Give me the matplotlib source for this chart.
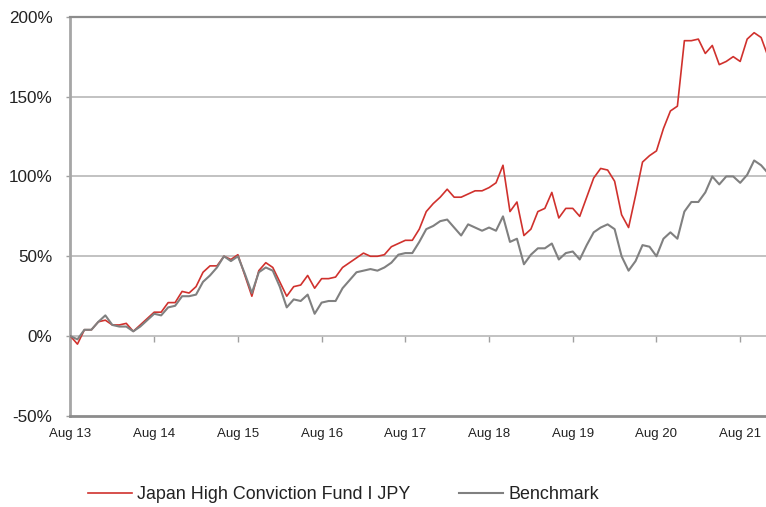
"""
Japan High Conviction Fund I JPY vs benchmark, cumulative performance.
"""

import matplotlib
matplotlib.use("Agg")
import numpy as np
import matplotlib.pyplot as plt

# monthly cumulative returns (%), Aug 2013 = month 0
fund = [0, -5, 4, 4, 9, 10, 7, 7, 8, 3,
        7, 11, 15, 15, 21, 21, 28, 27, 31, 40,
        44, 44, 50, 48, 51, 38, 25, 41, 46, 43,
        34, 25, 31, 32, 38, 30, 36, 36, 37, 43,
        46, 49, 52, 50, 50, 51, 56, 58, 60, 60,
        67, 78, 83, 87, 92, 87, 87, 89, 91, 91,
        93, 96, 107, 78, 84, 63, 67, 78, 80, 90,
        74, 80, 80, 75, 87, 99, 105, 104, 97, 76,
        68, 88, 109, 113, 116, 130, 141, 144, 185, 185,
        186, 177, 182, 170, 172, 175, 172, 186, 190, 187,
        175]
benchmark = [0, -2, 4, 4, 9, 13, 7, 6, 6, 3,
             6, 10, 14, 13, 18, 19, 25, 25, 26, 34,
             38, 43, 50, 47, 50, 39, 27, 40, 43, 41,
             31, 18, 23, 22, 26, 14, 21, 22, 22, 30,
             35, 40, 41, 42, 41, 43, 46, 51, 52, 52,
             59, 67, 69, 72, 73, 68, 63, 70, 68, 66,
             68, 66, 75, 59, 61, 45, 51, 55, 55, 58,
             48, 52, 53, 48, 57, 65, 68, 70, 67, 50,
             41, 47, 57, 56, 50, 61, 65, 61, 78, 84,
             84, 90, 100, 95, 100, 100, 96, 101, 110, 107,
             102]

x_labels = ["Aug 13", "Aug 14", "Aug 15", "Aug 16", "Aug 17",
            "Aug 18", "Aug 19", "Aug 20", "Aug 21"]
y_ticks = [-50, 0, 50, 100, 150, 200]
y_labels = ["-50%", "0%", "50%", "100%", "150%", "200%"]

series_names = ["Japan High Conviction Fund I JPY", "Benchmark"]

plt.rcParams['font.family'] = ['Liberation Sans', 'DejaVu Sans']

fig = plt.figure(figsize=(7.66, 5.07), dpi=100)
ax = fig.add_axes([0.092, 0.1795, 0.908, 0.7875])

months = np.arange(len(fund))
ax.plot(months, fund, color='#d0312d', lw=1.2, label=series_names[0], zorder=3)
ax.plot(months, benchmark, color='#808080', lw=1.5, label=series_names[1], zorder=4)

ax.set_xlim(0, 99.7)
ax.set_ylim(-50, 200)

xt = np.arange(len(x_labels)) * 12
ax.set_xticks(xt)
ax.set_xticklabels(x_labels, fontsize=9.5, color='#222222')
ax.tick_params(axis='x', length=0, pad=8.5)

ax.set_yticks(y_ticks)
ax.set_yticklabels(y_labels, fontsize=12.3, color='#222222')
ax.tick_params(axis='y', length=3, width=1, color='#a0a0a0', pad=10)

# horizontal grid lines
for v in y_ticks[1:-1]:
    ax.axhline(v, color='#bdbdbd', lw=1.3, zorder=1)

# category axis crosses at 0%: tick marks hang from the 0% line
sec = ax.secondary_xaxis(0.2)
sec.set_xticks(xt)
sec.xaxis.set_ticks_position('bottom')
sec.tick_params(axis='x', direction='out', length=4, width=1,
                color='#a0a0a0', labelbottom=False, labeltop=False)
for s in sec.spines.values():
    s.set_visible(False)

ax.spines['right'].set_visible(False)
ax.spines['top'].set_color('#8c8c8c')
ax.spines['top'].set_linewidth(1.6)
ax.spines['left'].set_color('#a6a6a6')
ax.spines['left'].set_linewidth(2)
ax.spines['bottom'].set_color('#8c8c8c')
ax.spines['bottom'].set_linewidth(2)

fig.legend(loc='center', bbox_to_anchor=(0.448, 0.0237), ncol=2,
           frameon=False, fontsize=12.9, handlelength=2.46,
           handletextpad=0.3, columnspacing=2.7, labelcolor='#222222')

fig.savefig("out.png", dpi=100)
